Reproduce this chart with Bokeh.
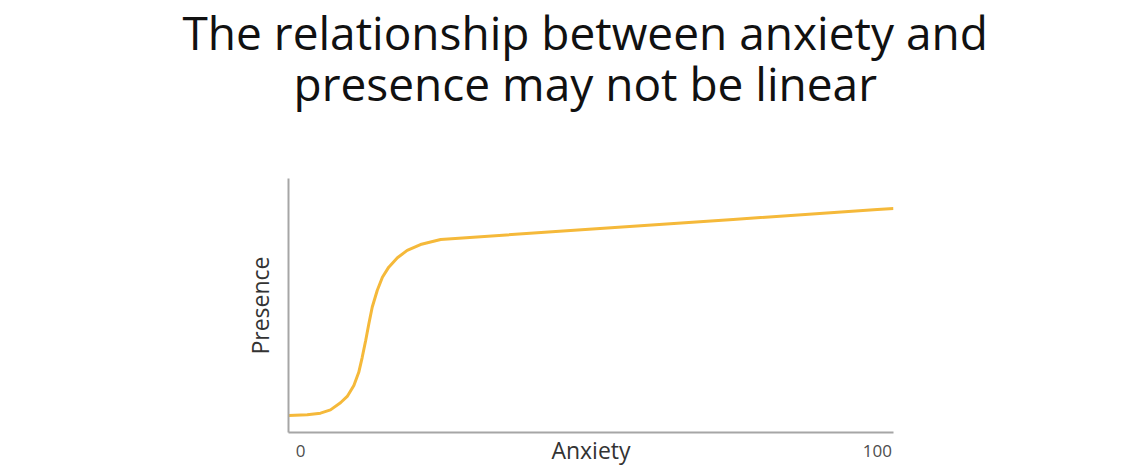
from bokeh.plotting import figure
from bokeh.models import Title, FixedTicker, Range1d
from bokeh.embed import file_html
from bokeh.resources import INLINE

# Data
anxiety = [-2.03, 1.16, 3.47, 5.2, 6.93, 8.1, 9.25, 10.1, 10.7, 11.3, 11.85, 12.43, 13.3, 14.2, 15.3, 16.8, 18.5, 20.8, 24.3, 50, 75, 100, 102.8]
presence = [6.69, 6.97, 7.6, 8.9, 11.7, 14.2, 18.5, 23.7, 29.6, 36.2, 42.8, 49.3, 55.9, 61.1, 65.1, 68.8, 71.7, 74.0, 76.0, 80.0, 83.9, 87.8, 88.2]
x_ticks = [0, 100]
x_tick_labels = {0: "0", 100: "100"}
title_line1 = "The relationship between anxiety and"
title_line2 = "presence may not be linear"
x_label = "Anxiety"
y_label = "Presence"

W, H = 1140, 472
p = figure(width=W, height=H, output_backend="svg", toolbar_location=None,
           x_range=Range1d(-2.08, 102.8), y_range=Range1d(0, 100),
           min_border_left=288, min_border_right=247, min_border_top=178,
           min_border_bottom=40)
p.outline_line_color = None
p.xgrid.visible = False
p.ygrid.visible = False
p.background_fill_color = "white"
p.border_fill_color = "white"

p.line(anxiety, presence, line_color="#F5B93A", line_width=3)

for ax in (p.xaxis[0], p.yaxis[0]):
    ax.axis_line_color = "#A6A6A6"
    ax.axis_line_width = 2
    ax.major_tick_line_color = None
    ax.minor_tick_line_color = None
    ax.major_tick_out = 0
    ax.major_tick_in = 0
    ax.axis_label_text_font = "Open Sans"
    ax.axis_label_text_font_style = "normal"
    ax.axis_label_text_font_size = "23px"
    ax.axis_label_text_color = "#333333"

xa = p.xaxis[0]
xa.ticker = FixedTicker(ticks=x_ticks)
xa.major_label_overrides = x_tick_labels
xa.major_label_text_font = "Open Sans"
xa.major_label_text_font_style = "normal"
xa.major_label_text_font_size = "17px"
xa.major_label_text_color = "#4d4d4d"
xa.major_label_standoff = 12
xa.axis_label = x_label
xa.axis_label_standoff = -26

ya = p.yaxis[0]
ya.ticker = FixedTicker(ticks=[])
ya.major_label_text_font_size = "0px"
ya.axis_label = y_label
ya.axis_label_standoff = 13

# blank spacer panel between the title lines and the plot frame
spacer = Title(text="\u00a0", text_font_size="1px", standoff=66)
p.add_layout(spacer, "above")

t1 = Title(text=title_line1, align="left", offset=-106, text_font="Open Sans",
           text_font_size="46px", text_font_style="normal", text_color="#111111",
           standoff=-18)
t2 = Title(text=title_line2, align="left", offset=5, text_font="Open Sans",
           text_font_size="46px", text_font_style="normal", text_color="#111111",
           standoff=-8)
p.add_layout(t2, "above")
p.add_layout(t1, "above")

open("out.html", "w").write(file_html(p, INLINE))
